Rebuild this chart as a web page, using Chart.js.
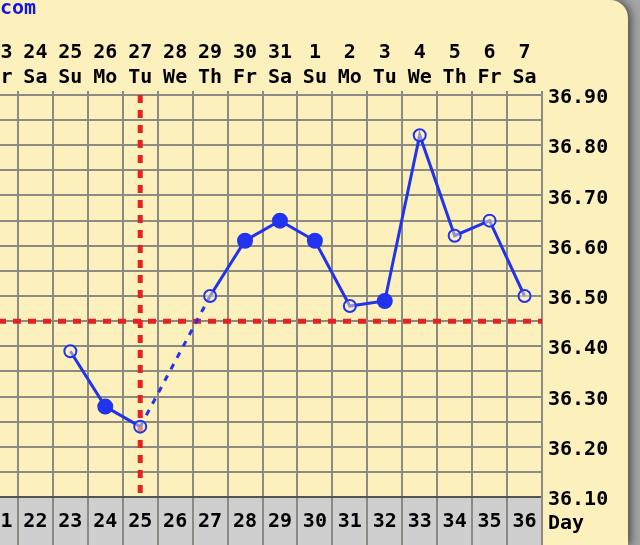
<!DOCTYPE html>
<html>
<head>
<meta charset="utf-8">
<title>BBT chart</title>
<script src="https://cdn.jsdelivr.net/npm/chart.js@4.4.0/dist/chart.umd.min.js"></script>
<style>
    html, body { margin: 0; padding: 0; width: 640px; height: 545px; overflow: hidden; background: #a4a4a4; }
    #panel { position: absolute; left: 0; top: 0; width: 628px; height: 545px; background: #fcf0bd;
             border-top-right-radius: 18px; box-shadow: 3px 0 8px rgba(0,0,0,0.55); overflow: hidden; }
    #chartTemp { position: absolute; left: -17px; top: 0; }
    .lbl { position: absolute; font: bold 20px "DejaVu Sans Mono", monospace; line-height: 20px; white-space: nowrap; }
</style>
</head>
<body>
<div id="panel">
    <canvas id="chartTemp" width="630" height="545"></canvas>
    <div class="lbl" style="left:0;top:-3px;color:#1414e6;">com</div>
    <div class="lbl" style="left:548px;top:512px;color:#000;">Day</div>
</div>
<script>
// cycle days shown (bottom row)
var cycleDays = [21, 22, 23, 24, 25, 26, 27, 28, 29, 30, 31, 32, 33, 34, 35, 36];
// calendar dates + weekdays (top rows)
var dates = ['23', '24', '25', '26', '27', '28', '29', '30', '31', '1', '2', '3', '4', '5', '6', '7'];
var weekdays = ['Fr', 'Sa', 'Su', 'Mo', 'Tu', 'We', 'Th', 'Fr', 'Sa', 'Su', 'Mo', 'Tu', 'We', 'Th', 'Fr', 'Sa'];
// temperatures (C), null = no reading
var temps = [null, null, 36.39, 36.28, 36.24, null, 36.50, 36.61, 36.65, 36.61, 36.48, 36.49, 36.82, 36.62, 36.65, 36.50];
// days drawn with a filled dot
var filledDays = [24, 28, 29, 30, 32];
var coverLine = 36.45;
var ovulationDay = 25;
var tempMin = 36.10;
var tempMax = 36.90;

var blue = '#2233ee';
var gridColor = '#8c8b83';
var labelFont = { family: '"DejaVu Sans Mono", monospace', size: 20, weight: 'bold', lineHeight: 1.25 };

var isFilled = function (i) {
    return filledDays.indexOf(cycleDays[i]) !== -1;
};

// fixed box sizes so the plot sits where the original does
var fixHeight = function (h) {
    return function (s) {
        s.height = h;
        s.paddingLeft = 0;
        s.paddingRight = 0;
    };
};

var markerLines = {
    id: 'markerLines',
    beforeDatasetsDraw: function (chart) {
        var ctx = chart.ctx;
        var area = chart.chartArea;
        var y = chart.scales.y.getPixelForValue(coverLine);
        var x = chart.scales.x.getPixelForValue(cycleDays.indexOf(ovulationDay));
        ctx.save();
        ctx.strokeStyle = '#e52222';
        ctx.lineWidth = 5;
        ctx.setLineDash([8, 7]);
        ctx.beginPath();
        ctx.moveTo(area.left, y);
        ctx.lineTo(area.right, y);
        ctx.stroke();
        ctx.beginPath();
        ctx.moveTo(x, area.top);
        ctx.lineTo(x, area.bottom);
        ctx.stroke();
        ctx.restore();
    }
};

var topLabels = [];
for (var i = 0; i < dates.length; i++) {
    topLabels.push([dates[i], weekdays[i]]);
}

var ctx = document.getElementById('chartTemp');
var myChart = new Chart(ctx, {
    type: 'line',
    data: {
        labels: cycleDays,
        datasets: [{
            data: temps,
            borderColor: blue,
            borderWidth: 3,
            spanGaps: true,
            segment: {
                borderDash: function (c) {
                    return (c.p0.skip || c.p1.skip) ? [6, 7] : undefined;
                }
            },
            pointRadius: function (c) { return isFilled(c.dataIndex) ? 7 : 6; },
            pointBorderWidth: 2,
            pointBorderColor: blue,
            pointBackgroundColor: function (c) {
                return isFilled(c.dataIndex) ? blue : 'rgba(252,240,189,0.5)';
            }
        }]
    },
    options: {
        responsive: false,
        animation: false,
        layout: { padding: 0, autoPadding: false },
        plugins: { legend: { display: false }, tooltip: { enabled: false } },
        scales: {
            x: {
                type: 'category',
                position: 'bottom',
                offset: true,
                backgroundColor: '#cfcfcf',
                grid: { offset: true, color: gridColor, lineWidth: 2, drawTicks: true, tickLength: 48 },
                border: { display: true, color: '#55554f', width: 2 },
                ticks: { font: labelFont, color: '#000', padding: -36, maxRotation: 0, autoSkip: false },
                afterFit: fixHeight(48)
            },
            x2: {
                type: 'category',
                position: 'top',
                labels: topLabels,
                offset: true,
                grid: { offset: true, drawOnChartArea: false, color: gridColor, lineWidth: 2, tickLength: 4 },
                border: { display: true, color: gridColor, width: 2 },
                ticks: { font: labelFont, color: '#000', padding: 1, maxRotation: 0, autoSkip: false },
                afterFit: fixHeight(95)
            },
            y: {
                position: 'right',
                min: tempMin,
                max: tempMax,
                grid: { color: gridColor, lineWidth: 2, drawTicks: false },
                border: { display: true, color: gridColor, width: 2 },
                ticks: {
                    stepSize: 0.05,
                    maxTicksLimit: 30,
                    autoSkip: false,
                    padding: 6,
                    labelOffset: 3,
                    font: labelFont,
                    color: '#000',
                    callback: function (v) {
                        return Math.round(v * 100) % 10 === 0 ? v.toFixed(2) : '';
                    }
                },
                afterFit: function (s) { s.width = 71; }
            }
        }
    },
    plugins: [markerLines]
});
</script>
</body>
</html>
